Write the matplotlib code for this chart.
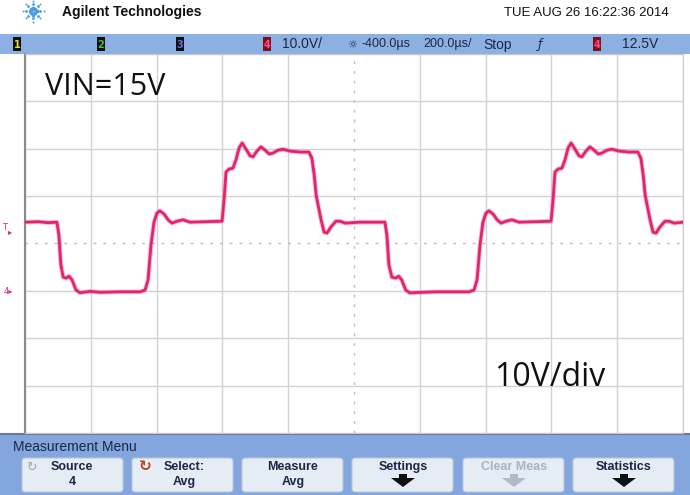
import matplotlib
matplotlib.use("Agg")
import matplotlib.pyplot as plt
from matplotlib.patches import Rectangle, FancyBboxPatch, Polygon
import numpy as np

# ---------------- data ----------------
# time in microseconds, voltage in volts (channel 4, 10 V/div, 200 us/div, delay -400 us)
trace_t = [-1400, -1360, -1330, -1303, -1297, -1291, -1284, -1275, -1266, -1257, -1245, -1233,
           -1202, -1172, -1111, -1050, -1035, -1026, -1017, -1008, -999, -990, -977, -965, -953,
           -938, -920, -898, -853, -801, -795, -789, -780, -768, -759, -749, -740, -728, -716,
           -707, -695, -683, -670, -658, -646, -631, -616, -594, -564, -537, -528, -521, -515,
           -509, -500, -491, -482, -470, -455, -442, -427, -382, -306, -300, -294, -285, -273,
           -264, -255, -243, -231, -150, -50, -35, -26, -17, -8, 1, 10, 23, 35, 47, 62, 80, 102,
           150, 199, 205, 211, 220, 232, 241, 251, 260, 272, 284, 293, 305, 317, 330, 342, 354,
           369, 384, 406, 436, 463, 472, 479, 485, 491, 500, 509, 518, 530, 545, 558, 573, 600]
trace_v = [14.5, 14.6, 14.4, 14.5, 11.8, 5.5, 2.9, 2.7, 3.1, 2.3, 0.2, -0.4,
           -0.1, -0.3, -0.2, -0.2, 0.2, 2.3, 9.7, 14.5, 16.4, 16.9, 16.2, 15.0, 14.3,
           14.7, 15.0, 14.5, 14.6, 14.7, 19.2, 25.1, 25.7, 25.9, 27.6, 30.2, 31.2, 29.9, 28.5,
           28.3, 29.5, 30.4, 29.7, 28.9, 29.1, 29.7, 29.9, 29.5, 29.3, 29.3, 28.0, 24.5, 20.2,
           18.1, 15.0, 12.4, 12.2, 13.5, 14.7, 14.7, 14.3, 14.5, 14.5, 11.8, 5.5, 2.9, 2.7,
           3.1, 2.3, 0.2, -0.4, -0.2, -0.2, 0.2, 2.3, 9.7, 14.5, 16.4, 16.9, 16.2, 15.0, 14.3, 14.7, 15.0, 14.5,
           14.6, 14.7, 19.2, 25.1, 25.7, 25.9, 27.6, 30.2, 31.2, 29.9, 28.5, 28.3, 29.5, 30.4, 29.7, 28.9, 29.1,
           29.7, 29.9, 29.5, 29.3, 29.3, 28.0, 24.5, 20.2, 18.1, 15.0, 12.4, 12.2, 13.5, 14.7, 14.7, 14.3, 14.5]

time_div = 200          # us/div
volt_div = 10           # V/div
delay = -400            # us (screen centre)
centre_v = 10           # V at screen centre

header_title = "Agilent Technologies"
header_date = "TUE AUG 26 16:22:36 2014"
menu_title = "Measurement Menu"
buttons = [("Source", "4"), ("Select:", "Avg"), ("Measure", "Avg"),
           ("Settings", None), ("Clear Meas", None), ("Statistics", None)]
label_vin = "VIN=15V"
label_scale = "10V/div"

# ---------------- figure ----------------
W, H = 690, 495
fig = plt.figure(figsize=(W / 100, H / 100), dpi=100)
fig.patch.set_facecolor("white")

bg = fig.add_axes([0, 0, 1, 1])
bg.set_xlim(0, W)
bg.set_ylim(H, 0)
bg.axis("off")

NARROW = ["Liberation Sans Narrow", "Liberation Sans", "DejaVu Sans"]
NAVY = "#1b2748"
BAR = "#8db0e3"
MENU = "#82a6dd"

# Agilent logo (starburst)
cx, cy = 33, 11
for ang in np.arange(0, 360, 45):
    a = np.deg2rad(ang)
    for r, s in [(3.5, 7), (7, 4), (10.5, 2)]:
        bg.scatter(cx + r * np.cos(a), cy + r * np.sin(a), s=s, color="#4a9be0", lw=0, zorder=3)
bg.scatter(cx, cy, s=8, color="#7fbcf0", lw=0)
bg.text(62, 12, header_title, fontsize=10, fontweight="bold", family=NARROW, color="#111111",
        va="center", ha="left")
bg.text(669, 13, header_date, fontsize=9.5, family=NARROW, color="#111111", va="center", ha="right")

# top status bar
bg.add_patch(Rectangle((0, 34), W, 20, facecolor=BAR, edgecolor="none"))
boxes = [(13, "1", "#101010", "#e8e040"), (97, "2", "#101010", "#40c040"),
         (176, "3", "#101010", "#6a6ae8"), (263, "4", "#7a1020", "#ff5080"),
         (593, "4", "#7a1020", "#ff5080")]
for x0, d, fc, tc in boxes:
    bg.add_patch(Rectangle((x0, 37), 8, 14, facecolor=fc, edgecolor="none"))
    bg.text(x0 + 4, 44.5, d, fontsize=7, fontweight="bold", color=tc, ha="center", va="center")
bar_texts = [(282, "10.0V/", 10), (362, "-400.0µs", 9), (423, "200.0µs/", 9),
             (483, "Stop", 10), (622, "12.5V", 10)]
for x0, s, fs in bar_texts:
    bg.text(x0, 44.5, s, fontsize=fs, family=NARROW, color=NAVY, ha="left", va="center")
bg.text(352, 44.5, "☼", fontsize=8, color=NAVY, ha="center", va="center", family="DejaVu Sans")
bg.text(540, 44.5, "ƒ", fontsize=9, color=NAVY, ha="center", va="center", style="italic")

# bottom menu
bg.add_patch(Rectangle((0, 433), W, H - 433, facecolor=MENU, edgecolor="none"))
bg.plot([0, W], [433.5, 433.5], color="#6a7890", lw=1.5)
bg.text(13, 447, menu_title, fontsize=10, family=NARROW, color=NAVY, ha="left", va="center")
bx = [22, 132, 242, 352, 463, 573]
for x0, (l1, l2) in zip(bx, buttons):
    bg.add_patch(FancyBboxPatch((x0, 458), 101, 34, boxstyle="round,pad=0,rounding_size=3",
                                facecolor="#e6ecf4", edgecolor="#b8c6d8", lw=0.8))
    grey = l1 == "Clear Meas"
    tc = "#a8b4c4" if grey else NAVY
    xc = x0 + 51
    if l1 == "Source":
        xc = 72
        bg.text(31, 467, "↻", fontsize=9, color="#a0a8b0", ha="center", va="center")
    if l1 == "Select:":
        xc = 184
        bg.text(145, 467, "↻", fontsize=11, color="#c04020", ha="center", va="center",
                fontweight="bold")
    bg.text(xc, 467, l1, fontsize=9, family=NARROW, fontweight="bold", color=tc,
            ha="center", va="center")
    if l2 is not None:
        bg.text(xc, 482, l2, fontsize=9, family=NARROW, fontweight="bold", color=tc,
                ha="center", va="center")
    else:
        ac = "#b0bac8" if grey else "#111111"
        bg.add_patch(Polygon([[xc - 12, 478], [xc + 12, 478], [xc, 487]], closed=True,
                             facecolor=ac, edgecolor="none"))
        bg.add_patch(Rectangle((xc - 4, 474), 8, 5, facecolor=ac, edgecolor="none"))

# ---------------- scope graticule + trace ----------------
L, R, T, B = 25, 683, 54, 433
ax = fig.add_axes([L / W, 1 - B / H, (R - L) / W, (B - T) / H])
xmin, xmax = delay - 5 * time_div, delay + 5 * time_div
ymin, ymax = centre_v - 4 * volt_div, centre_v + 4 * volt_div
ax.set_xlim(xmin, xmax)
ax.set_ylim(ymin, ymax)
xt = [v for v in np.arange(xmin, xmax + 1, time_div) if v != delay]
yt = [v for v in np.arange(ymin, ymax + 1, volt_div) if v != centre_v]
ax.set_xticks(xt)
ax.set_yticks(yt)
ax.tick_params(length=0, labelbottom=False, labelleft=False)
ax.grid(True, color="#d2d2d2", lw=1.0)
ax.axvline(delay, color="#bdbdbd", lw=1.0, ls=(0, (2, 5)))
ax.axhline(centre_v, color="#bdbdbd", lw=1.0, ls=(0, (2, 5)))
for s in ["top", "right", "bottom"]:
    ax.spines[s].set_color("#c8c8c8")
ax.spines["left"].set_color("#8a8a8a")
ax.spines["left"].set_linewidth(1.5)

ax.plot(trace_t, trace_v, color="#f07aa8", lw=3.4, alpha=0.5, zorder=3, solid_joinstyle="round")
ax.plot(trace_t, trace_v, color="#e0246e", lw=2.0, zorder=4, solid_joinstyle="round")

# markers on top edge (delay / trigger position)
bg.add_patch(Polygon([[349, 54], [357, 54], [353, 59]], closed=True, facecolor="none",
                     edgecolor="#d8a060", lw=1))
bg.add_patch(Polygon([[483, 54], [491, 54], [487, 59]], closed=True, facecolor="#e88a30",
                     edgecolor="none"))
# left markers (trigger level, ground)
bg.text(5, 227, "T", fontsize=6, color="#e0246e", ha="center", va="center")
bg.text(10, 232, "▸", fontsize=6, color="#e0246e", ha="center", va="center")
bg.text(8, 292, "4▸", fontsize=6, color="#e0246e", ha="center", va="center")

# annotations
fig.text(45 / W, 1 - 87 / H, label_vin, fontsize=22, family=["Open Sans", "DejaVu Sans"],
         color="#111111", ha="left", va="center")
fig.text(494 / W, 1 - 377 / H, label_scale, fontsize=23, family=["Open Sans", "DejaVu Sans"],
         color="#111111", ha="left", va="center")

fig.savefig("out.png", dpi=100, facecolor="white")
